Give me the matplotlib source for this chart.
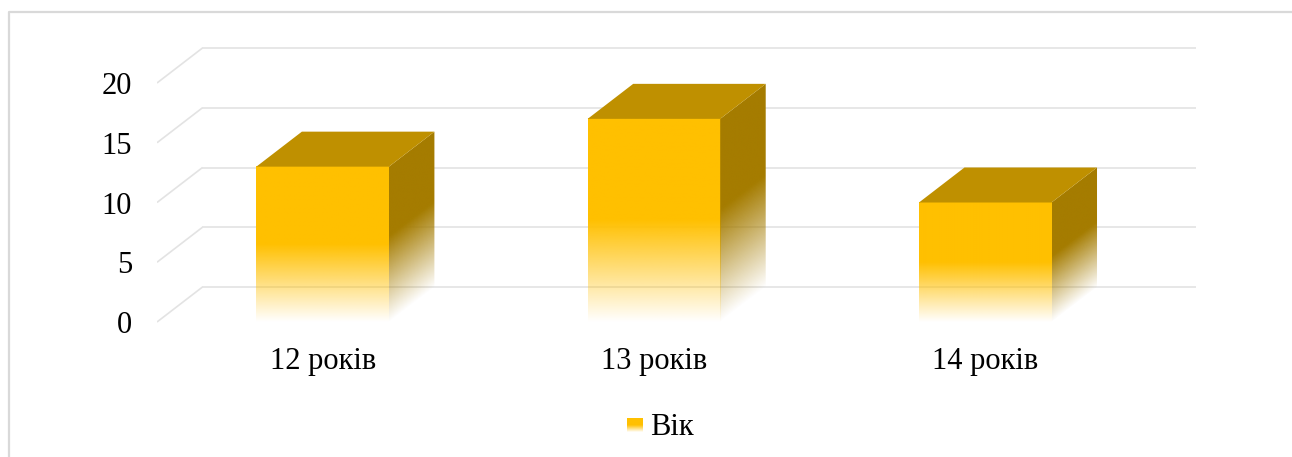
import numpy as np
import matplotlib
matplotlib.use('Agg')
import matplotlib.pyplot as plt
from matplotlib.patches import Polygon
from matplotlib.lines import Line2D
from matplotlib.colors import to_rgb

# ---- data ----
categories = ['12 років', '13 років', '14 років']
values = [13, 17, 10]
series_name = 'Вік'
yticks = [0, 5, 10, 15, 20]

# ---- style ----
FRONT = '#FFC000'
TOP = '#BF9000'
SIDE = '#A57C00'
GRID = '#E3E3E3'
plt.rcParams['font.family'] = ['Liberation Serif', 'DejaVu Serif']
FS = 22

W, H = 1292, 457
fig = plt.figure(figsize=(W / 100, H / 100), dpi=100)

x_lo, x_hi = -0.5, 2.65
y_lo, y_hi = -0.5, 23.5
px_per_x = 331.3
px_per_y = 11.95
left_px = 157
zero_px = 322
ax_left = left_px / W
ax_w = (x_hi - x_lo) * px_per_x / W
bottom_from_top = zero_px + (0 - y_lo) * px_per_y
ax_b = (H - bottom_from_top) / H
ax_h = (y_hi - y_lo) * px_per_y / H
ax = fig.add_axes([ax_left, ax_b, ax_w, ax_h])
ax.patch.set_visible(False)

dx = 45.5 / px_per_x   # depth offset in x data units
dy = 35.0 / px_per_y   # depth offset in y data units
bw = 0.40


def alpha_fn(frac, stop=0.5):
    return np.clip(frac / stop, 0, 1)


# gridlines: left wall diagonals and back wall
for v in yticks:
    ax.plot([-0.5, -0.5 + dx], [v, v + dy], color=GRID, lw=1.2, zorder=1,
            solid_capstyle='butt')
    ax.plot([-0.5 + dx, 2.5 + dx], [v + dy, v + dy], color=GRID, lw=1.2,
            zorder=1, solid_capstyle='butt')

for i, v in enumerate(values):
    x0 = i - bw / 2
    x1 = i + bw / 2
    # front face with vertical fade
    n = 300
    fr = (np.arange(n) + 0.5) / n
    img = np.zeros((n, 1, 4))
    img[..., :3] = to_rgb(FRONT)
    img[:, 0, 3] = alpha_fn(fr)
    ax.imshow(img, extent=[x0, x1, 0, v], origin='lower', aspect='auto',
              interpolation='bilinear', zorder=3)
    # side face
    K, M = 80, 500
    xs = (np.arange(K) + 0.5) / K
    ys = (np.arange(M) + 0.5) / M * (v + dy)
    T, Y = np.meshgrid(xs, ys)
    frac = (Y - T * dy) / v
    simg = np.zeros((M, K, 4))
    simg[..., :3] = to_rgb(SIDE)
    simg[..., 3] = alpha_fn(frac, 0.55)
    im = ax.imshow(simg, extent=[x1, x1 + dx, 0, v + dy], origin='lower',
                   aspect='auto', interpolation='bilinear', zorder=3)
    poly = Polygon([(x1, 0), (x1 + dx, dy), (x1 + dx, v + dy), (x1, v)],
                   closed=True, facecolor='none', edgecolor='none')
    ax.add_patch(poly)
    im.set_clip_path(poly)
    # top face
    ax.add_patch(Polygon([(x0, v), (x1, v), (x1 + dx, v + dy), (x0 + dx, v + dy)],
                         closed=True, facecolor=TOP, edgecolor='none', zorder=4))

ax.set_xlim(x_lo, x_hi)
ax.set_ylim(y_lo, y_hi)
ax.set_yticks(yticks)
ax.set_yticklabels([str(t) for t in yticks], fontsize=FS)
ax.set_xticks(range(len(categories)))
ax.set_xticklabels(categories, fontsize=FS)
ax.tick_params(axis='y', length=0, pad=18)
ax.tick_params(axis='x', length=0, pad=14)
for s in ax.spines.values():
    s.set_visible(False)

# legend
lax = fig.add_axes([627 / W, (H - 432) / H, 16 / W, 14 / H])
n = 100
fr = (np.arange(n) + 0.5) / n
limg = np.zeros((n, 1, 4))
limg[..., :3] = to_rgb(FRONT)
limg[:, 0, 3] = alpha_fn(fr)
lax.imshow(limg, extent=[0, 1, 0, 1], origin='lower', aspect='auto',
           interpolation='bilinear')
lax.axis('off')
fig.text(650 / W, 1 - 435 / H, series_name, ha='left', va='baseline', fontsize=FS)

# chart border
fig.add_artist(Line2D([9 / W, 9 / W, 1.0], [0, 1 - 12 / H, 1 - 12 / H],
                      transform=fig.transFigure, color='#D9D9D9', lw=1.6))

fig.savefig('out.png', dpi=100)
